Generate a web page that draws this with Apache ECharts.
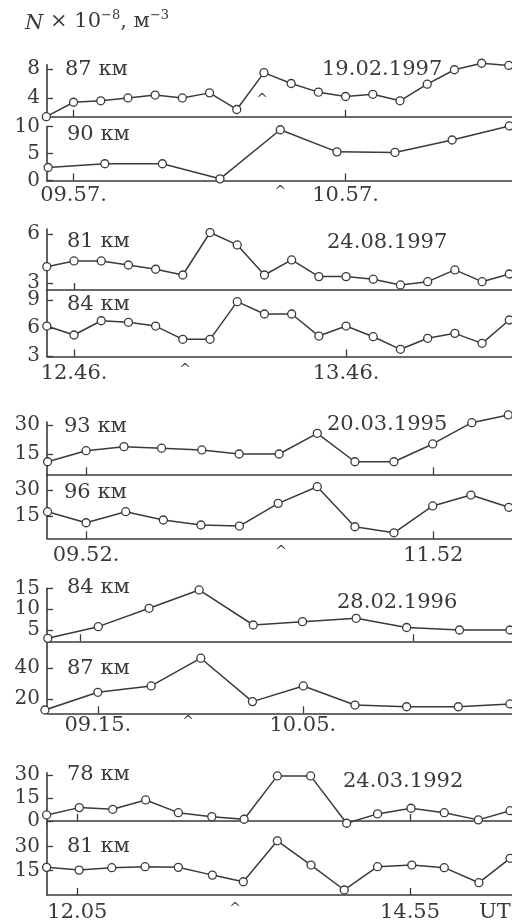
<!DOCTYPE html>
<html><head><meta charset="utf-8">
<script src="https://cdn.jsdelivr.net/npm/echarts@6/dist/echarts.min.js"></script>
<style>html,body{margin:0;padding:0;background:#fff}#c{width:512px;height:922px}</style>
</head><body><div id="c"></div>
<script>
// ---- Data (time in minutes after midnight UT, N in 1e8 m^-3) ----
// 19.02.1997
const t1 = [591, 597, 603, 609, 615, 621, 627, 633, 639, 645, 651, 657, 663, 669, 675, 681, 687, 693];
const n1 = [1.4, 3.4, 3.6, 4.0, 4.4, 4.0, 4.7, 2.4, 7.5, 6.0, 4.8, 4.2, 4.5, 3.6, 5.9, 7.9, 8.8, 8.5];
const t2 = [591.4, 603.9, 616.6, 629.3, 642.6, 655.1, 667.9, 680.5, 693.1];
const n2 = [2.4, 3.1, 3.1, 0.3, 9.4, 5.3, 5.2, 7.5, 10.1];
// 24.08.1997
const t3 = [760, 766, 772, 778, 784, 790, 796, 802, 808, 814, 820, 826, 832, 838, 844, 850, 856, 862];
const n3 = [4.0, 4.35, 4.35, 4.1, 3.84, 3.49, 6.09, 5.33, 3.49, 4.41, 3.39, 3.39, 3.23, 2.88, 3.08, 3.8, 3.08, 3.55];
const t4 = [760, 766, 772, 778, 784, 790, 796, 802, 808, 814, 820, 826, 832, 838, 844, 850, 856, 862];
const n4 = [6.21, 5.25, 6.78, 6.61, 6.21, 4.79, 4.79, 8.82, 7.5, 7.5, 5.14, 6.21, 5.07, 3.72, 4.9, 5.43, 4.36, 6.86];
// 20.03.1995
const t5 = [578.7, 592, 605.1, 618.1, 632, 644.9, 658.7, 671.9, 684.9, 698.4, 711.8, 725.3, 737.9];
const n5 = [11.0, 16.7, 18.8, 18.0, 17.1, 15.0, 15.0, 25.7, 11.0, 11.0, 20.2, 31.2, 35.2];
const t6 = [578.7, 592, 605.7, 618.7, 631.7, 645, 658.4, 671.9, 684.9, 698.4, 711.8, 725, 738.1];
const n6 = [17.5, 11.1, 17.5, 12.7, 9.8, 9.2, 22.3, 31.9, 8.8, 5.3, 20.8, 27.1, 20.0];
// 28.02.1996
const t7 = [542.8, 555.1, 567.5, 579.7, 592.9, 604.9, 618, 630.3, 643.2, 655.5];
const n7 = [3.0, 5.8, 10.2, 14.6, 6.2, 7.0, 7.8, 5.6, 5.0, 5.0];
const t8 = [542.1, 555, 568, 580.1, 592.7, 605.1, 617.7, 630.3, 642.9, 655.5];
const n8 = [12.9, 24.3, 28.4, 46.3, 18.3, 28.4, 16.1, 15.0, 15.0, 16.8];
// 24.03.1992
const t9 = [709.3, 726, 743.1, 759.9, 776.6, 793.7, 810.2, 827.2, 844.2, 862.6, 878.4, 895.5, 912.5, 929.9, 946.1];
const n9 = [3.9, 8.7, 7.6, 13.7, 5.4, 2.8, 1.1, 29.4, 29.4, -1.5, 4.6, 8.3, 5.4, 0.7, 6.7];
const t10 = [709.3, 725.9, 742.6, 759.6, 776.6, 794, 809.8, 827.2, 844.4, 861.4, 878.4, 895.9, 912.5, 930.2, 946.1];
const n10 = [17.1, 15.4, 16.9, 17.5, 17.1, 12.3, 8.2, 33.5, 18.5, 3.1, 17.5, 18.5, 16.9, 7.6, 22.7];

// altitudes and dates
const heights = ['87 км', '90 км', '81 км', '84 км', '93 км', '96 км', '84 км', '87 км', '78 км', '81 км'];
const dates = ['19.02.1997', '24.08.1997', '20.03.1995', '28.02.1996', '24.03.1992'];

// y tick values per panel
const yTicks = [[4, 8], [0, 5, 10], [3, 6], [3, 6, 9], [15, 30], [15, 30], [5, 10, 15], [20, 40], [0, 15, 30], [15, 30]];
// x tick times and labels
const xTickTimes = [[597, 657], [597, 657], [766], [766, 826], [592, 712], [592, 712], [550.6, 631.8], [555, 605], [725, 895], [725, 895]];
const xTickLabels = [null, ['09.57.', '10.57.'], null, ['12.46.', '13.46.'], null, ['09.52.', '11.52'], null, ['09.15.', '10.05.'], null, ['12.05', '14.55']];
const caretTimes = [null, 642.6, null, 790.5, null, 659.4, null, 577, null, 805.6];
const utTime = 938.4;
const innerCaret = [638.6, 3.6];

const T = [t1, t2, t3, t4, t5, t6, t7, t8, t9, t10];
const N = [n1, n2, n3, n4, n5, n6, n7, n8, n9, n10];

// ---- Layout ----
const FONT = 'DejaVu Serif';
const INK = '#3a3a3a';
const xRanges = [[591.15, 693.7], [591.15, 693.7], [760.04, 862.6], [760.04, 862.6], [578.5, 739.2], [578.5, 739.2], [542.6, 656], [542.6, 656], [709.5, 947.1], [709.5, 947.1]];
const gridPos = [[64.7, 52], [126.5, 54.5], [229.1, 60.9], [290, 66.5], [422.1, 52.2], [474.3, 64], [588.3, 53], [641.3, 72], [772.7, 51.3], [824, 71]];
const yRanges = [[1.4, 8.6], [-0.1, 10], [2.57, 6.3], [2.95, 10.07], [4.5, 31.5], [2.13, 39.06], [2.29, 15], [10.77, 57.2], [-2, 31.5], [0, 43.9]];
const xMargins = [4, 4, 4, 7, 4, 7, 4, 2, 4, 7];
const heightPos = [[65, 59], [67, 124], [67, 231], [67, 294], [64, 416], [64, 482], [67, 577], [67, 658], [67, 764], [67, 836]];
const datePos = [[322, 59], [327, 232], [327, 414], [337, 592], [343, 771]];

const grids = [], xAxes = [], yAxes = [], series = [];
for (let i = 0; i < 10; i++) {
  grids.push({left: 47, right: 0, top: gridPos[i][0], height: gridPos[i][1], containLabel: false, outerBoundsMode: 'none'});
  const labMap = {};
  const labVals = [];
  if (xTickLabels[i]) {
    xTickTimes[i].forEach((v, k) => { labMap[v.toFixed(2)] = xTickLabels[i][k]; labVals.push(v); });
  }
  if (caretTimes[i] != null) { labMap[caretTimes[i].toFixed(2)] = '{c|^}'; labVals.push(caretTimes[i]); }
  if (i === 9) { labMap[utTime.toFixed(2)] = 'UT'; labVals.push(utTime); }
  xAxes.push({
    type: 'value', gridIndex: i, min: xRanges[i][0], max: xRanges[i][1],
    axisLine: {show: true, lineStyle: {color: INK, width: 1.6}},
    axisTick: {show: true, inside: true, length: 7, customValues: xTickTimes[i], lineStyle: {color: INK, width: 1.3}},
    axisLabel: {
      show: labVals.length > 0, customValues: labVals, margin: xMargins[i],
      fontFamily: FONT, fontSize: 21, color: INK, showMinLabel: true, showMaxLabel: true, hideOverlap: false,
      formatter: v => labMap[Number(v).toFixed(2)] || '',
      rich: {c: {fontFamily: FONT, fontSize: 14, color: INK, verticalAlign: 'top'}}
    },
    splitLine: {show: false}
  });
  yAxes.push({
    type: 'value', gridIndex: i, min: yRanges[i][0], max: yRanges[i][1],
    axisLine: {show: true, lineStyle: {color: INK, width: 1.6}},
    axisTick: {show: true, inside: true, length: 6, customValues: yTicks[i], lineStyle: {color: INK, width: 1.3}},
    axisLabel: {show: true, customValues: yTicks[i], margin: 7, fontFamily: FONT, fontSize: 20, color: INK,
      showMinLabel: true, showMaxLabel: true, hideOverlap: false, formatter: v => String(v)},
    splitLine: {show: false}
  });
  const s = {
    type: 'line', xAxisIndex: i, yAxisIndex: i,
    data: T[i].map((x, k) => [x, N[i][k]]),
    symbol: 'circle', symbolSize: 8, showAllSymbol: true, clip: false,
    lineStyle: {color: INK, width: 1.5},
    itemStyle: {color: '#fff', borderColor: INK, borderWidth: 1.3},
    emphasis: {disabled: true}, animation: false
  };
  if (i === 0) {
    s.markPoint = {
      symbol: 'circle', symbolSize: 1, itemStyle: {color: 'rgba(0,0,0,0)'},
      label: {show: true, position: 'inside', formatter: '^', fontFamily: FONT, fontSize: 14, color: INK},
      data: [{coord: innerCaret}]
    };
  }
  series.push(s);
}

const txt = {fontFamily: FONT, fontSize: 21, fontWeight: 'normal', color: INK};
const titles = [{
  left: 25, top: 9, padding: 0,
  text: '{i|N} × 10{s|−8}, м{s|−3}',
  textStyle: {fontFamily: FONT, fontSize: 21, fontWeight: 'normal', color: INK,
    rich: {
      i: {fontFamily: FONT, fontStyle: 'italic', fontSize: 21, color: INK, lineHeight: 25, verticalAlign: 'bottom'},
      s: {fontFamily: FONT, fontSize: 13, color: INK, lineHeight: 25, verticalAlign: 'top'}
    }}
}];
heights.forEach((h, i) => titles.push({text: h, left: heightPos[i][0], top: heightPos[i][1], padding: 0, textStyle: txt}));
dates.forEach((d, i) => titles.push({text: d, left: datePos[i][0], top: datePos[i][1], padding: 0, textStyle: txt}));

const chart = echarts.init(document.getElementById('c'), null, {renderer: 'canvas'});
chart.setOption({
  animation: false, backgroundColor: '#fff',
  title: titles, grid: grids, xAxis: xAxes, yAxis: yAxes, series: series
});
</script></body></html>
